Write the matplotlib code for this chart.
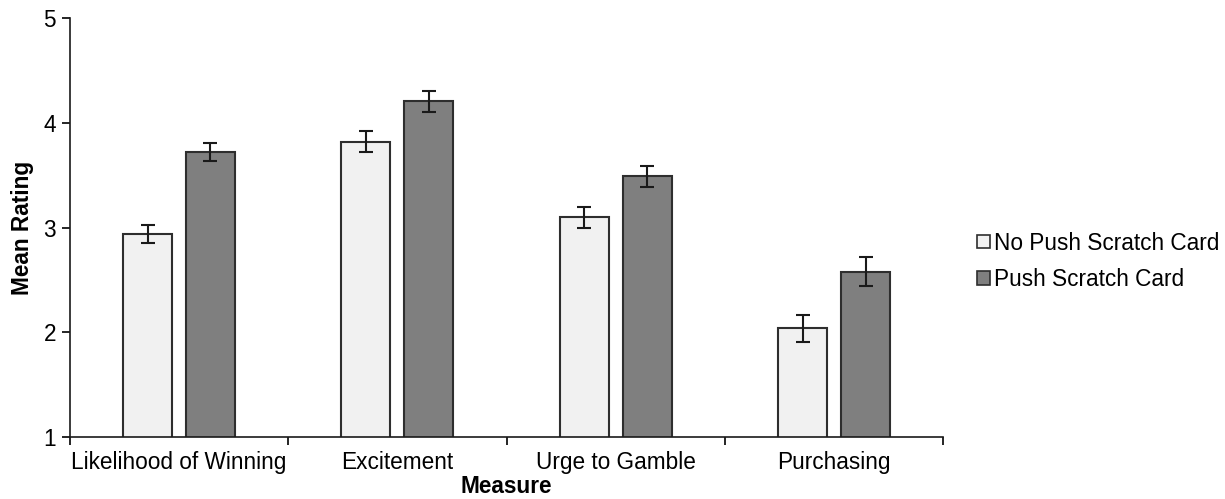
import numpy as np
import matplotlib.pyplot as plt
from matplotlib.patches import Patch

# =========================================================
# Data
# =========================================================

MEASURES = ["Likelihood of Winning", "Excitement", "Urge to Gamble", "Purchasing"]
NO_PUSH = [2.94, 3.82, 3.10, 2.04]
NO_PUSH_ERR = [0.085, 0.10, 0.10, 0.13]
PUSH = [3.72, 4.205, 3.49, 2.58]
PUSH_ERR = [0.085, 0.10, 0.10, 0.14]
SERIES_LABELS = ["No Push Scratch Card", "Push Scratch Card"]

LIGHT = "#f1f1f1"
DARK = "#7f7f7f"
EDGE = "#2e2e2e"
FS = 16.3

plt.rcParams["font.family"] = ["Liberation Sans", "DejaVu Sans"]

fig = plt.figure(figsize=(12.25, 4.99), dpi=100)
ax = fig.add_axes([0.057, 0.124, 0.713, 0.840])

x = np.arange(len(MEASURES))
width = 0.225
offset = 0.144

err_kw = dict(ecolor="#1a1a1a", elinewidth=1.5, capsize=5, capthick=1.5)

ax.bar(x - offset, NO_PUSH, width, color=LIGHT, edgecolor=EDGE,
       linewidth=1.5, yerr=NO_PUSH_ERR, error_kw=err_kw, zorder=2)
ax.bar(x + offset, PUSH, width, color=DARK, edgecolor=EDGE,
       linewidth=1.5, yerr=PUSH_ERR, error_kw=err_kw, zorder=2)

ax.set_ylim(1, 5)
ax.set_xlim(-0.5, len(MEASURES) - 0.5)
ax.set_yticks([1, 2, 3, 4, 5])

# category labels centred, ticks on the boundaries
ax.set_xticks(np.arange(-0.5, len(MEASURES)), minor=False)
ax.set_xticklabels([])
ax.set_xticks(x, minor=True)
ax.set_xticklabels(MEASURES, minor=True, fontsize=FS)
ax.tick_params(axis="x", which="minor", length=0, pad=10)
ax.tick_params(axis="x", which="major", length=6, width=1.2, direction="out")
ax.tick_params(axis="y", length=6, width=1.2, direction="out", labelsize=FS, pad=4)

for side in ["top", "right"]:
    ax.spines[side].set_visible(False)
for side in ["left", "bottom"]:
    ax.spines[side].set_linewidth(1.2)
    ax.spines[side].set_color("#1a1a1a")

ax.set_ylabel("Mean Rating", fontsize=FS, fontweight="bold", labelpad=7)
ax.set_xlabel("Measure", fontsize=FS, fontweight="bold", labelpad=1)

handles = [
    Patch(facecolor=LIGHT, edgecolor=EDGE, linewidth=1.2),
    Patch(facecolor=DARK, edgecolor=EDGE, linewidth=1.2),
]
fig.legend(handles, SERIES_LABELS, loc="center left",
           bbox_to_anchor=(0.781, 0.476), frameon=False, fontsize=FS,
           handlelength=0.55, handleheight=0.55, handletextpad=0.2,
           labelspacing=0.6)

fig.savefig("out.png", dpi=100)
